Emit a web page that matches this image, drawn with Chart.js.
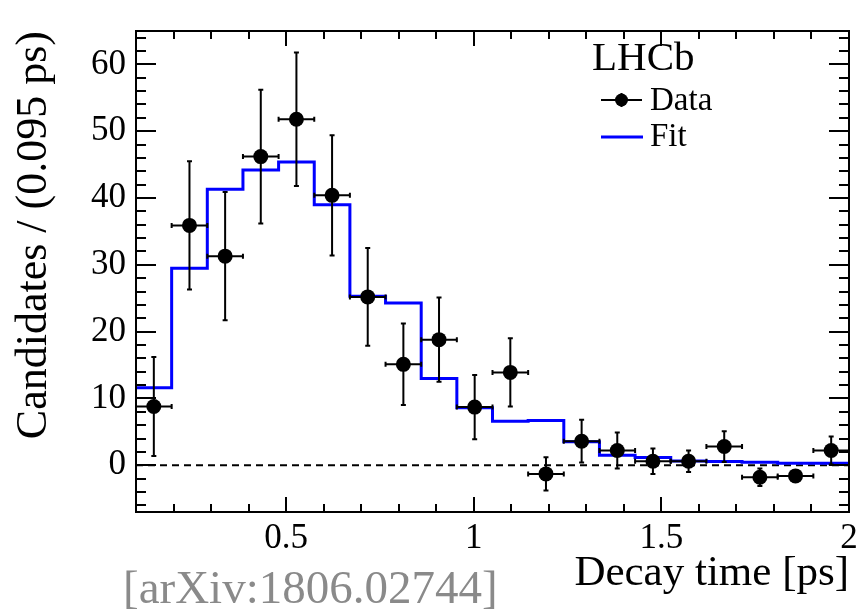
<!DOCTYPE html>
<html>
<head>
<meta charset="utf-8">
<script src="https://cdn.jsdelivr.net/npm/chart.js@4.4.1/dist/chart.umd.min.js"></script>
<style>
  html, body { margin: 0; padding: 0; background: #ffffff; }
  #wrap { width: 865px; height: 609px; position: relative; }
</style>
</head>
<body>
<div id="wrap"><canvas id="c" width="865" height="609"></canvas></div>
<script>
// Decay-time bins (ps), 0.095 ps wide
const binEdges = [0.1, 0.195, 0.29, 0.385, 0.48, 0.575, 0.67, 0.765, 0.86, 0.955,
                  1.05, 1.145, 1.24, 1.335, 1.43, 1.525, 1.62, 1.715, 1.81, 1.905, 2.0];

// Candidates per bin and their statistical uncertainties
const dataValues = [8.8, 35.9, 31.3, 46.2, 51.8, 40.4, 25.2, 15.1, 18.8, 8.7,
                    13.9, -1.3, 3.6, 2.2, 0.6, 0.6, 2.8, -1.8, -1.6, 2.2];
const dataErrors = [7.4, 9.6, 9.6, 10.0, 10.0, 9.0, 7.3, 6.1, 6.3, 4.8,
                    5.1, 2.5, 3.2, 2.7, 1.9, 1.6, 2.3, 1.3, 0.8, 2.1];

// Fit prediction per bin
const fitValues = [11.6, 29.5, 41.3, 44.2, 45.4, 39.0, 25.3, 24.3, 13.0, 8.6,
                   6.6, 6.7, 3.5, 1.5, 1.15, 0.65, 0.55, 0.43, 0.3, 0.28];

// Axis tick labels
const xTickValues = [0.5, 1, 1.5, 2];
const yTickValues = [0, 10, 20, 30, 40, 50, 60];

const FONT = "'Liberation Serif', serif";
Chart.defaults.font.family = FONT;
Chart.defaults.color = '#000';

const binCenters = dataValues.map((_, i) => (binEdges[i] + binEdges[i + 1]) / 2);
const dataPoints = dataValues.map((v, i) => ({ x: binCenters[i], y: v }));
const fitPoints = binEdges.map((e, i) => ({ x: e, y: fitValues[Math.min(i, fitValues.length - 1)] }));

// Frame, inward ticks, zero line, error bars and the legend block
const decorations = {
  id: 'decorations',
  beforeDatasetsDraw(chart) {
    const { ctx, chartArea: a, scales: { y } } = chart;
    const y0 = y.getPixelForValue(0);
    ctx.save();
    ctx.strokeStyle = '#000';
    ctx.lineWidth = 2;
    ctx.setLineDash([7, 5]);
    ctx.beginPath();
    ctx.moveTo(a.left, y0);
    ctx.lineTo(a.right, y0);
    ctx.stroke();
    ctx.restore();
  },
  beforeDatasetDraw(chart, args) {
    if (chart.data.datasets[args.index].label !== 'Data') return;
    const { ctx, scales: { x, y } } = chart;
    ctx.save();
    ctx.strokeStyle = '#000';
    ctx.lineWidth = 2;
    const cap = 2.5;
    dataValues.forEach((v, i) => {
      const px = x.getPixelForValue(binCenters[i]);
      const py = y.getPixelForValue(v);
      const xl = x.getPixelForValue(binEdges[i]);
      const xr = x.getPixelForValue(binEdges[i + 1]);
      const yt = y.getPixelForValue(v + dataErrors[i]);
      const yb = y.getPixelForValue(v - dataErrors[i]);
      ctx.beginPath();
      ctx.moveTo(px, yt); ctx.lineTo(px, yb);
      ctx.moveTo(px - cap, yt); ctx.lineTo(px + cap, yt);
      ctx.moveTo(px - cap, yb); ctx.lineTo(px + cap, yb);
      ctx.moveTo(xl, py); ctx.lineTo(xr, py);
      ctx.moveTo(xl, py - cap); ctx.lineTo(xl, py + cap);
      ctx.moveTo(xr, py - cap); ctx.lineTo(xr, py + cap);
      ctx.stroke();
    });
    ctx.restore();
  },
  afterDatasetsDraw(chart) {
    const { ctx, chartArea: a, scales: { x, y } } = chart;
    ctx.save();
    ctx.strokeStyle = '#000';
    ctx.lineWidth = 2;
    ctx.strokeRect(a.left, a.top, a.right - a.left, a.bottom - a.top);

    ctx.beginPath();
    // x ticks: major every 0.5, minor every 0.1
    for (let k = 1; k <= 19; k++) {
      const v = 0.1 + k * 0.1;
      const px = Math.round(x.getPixelForValue(v));
      const major = Math.abs(v * 2 - Math.round(v * 2)) < 1e-6;
      const len = major ? 15 : 8;
      ctx.moveTo(px, a.bottom); ctx.lineTo(px, a.bottom - len);
      ctx.moveTo(px, a.top); ctx.lineTo(px, a.top + len);
    }
    // y ticks: major every 10, minor every 2
    for (let v = -6; v <= 64; v += 2) {
      const py = Math.round(y.getPixelForValue(v));
      const major = v % 10 === 0;
      const len = major ? 20 : 10;
      ctx.moveTo(a.left, py); ctx.lineTo(a.left + len, py);
      ctx.moveTo(a.right, py); ctx.lineTo(a.right - len, py);
    }
    ctx.stroke();

    // Experiment label and legend
    ctx.fillStyle = '#000';
    ctx.textBaseline = 'alphabetic';
    ctx.textAlign = 'left';
    ctx.font = '41px ' + FONT;
    ctx.fillText('LHCb', 592, 70);

    ctx.font = '33px ' + FONT;
    ctx.fillText('Data', 650, 110);
    ctx.fillText('Fit', 650, 146);

    ctx.lineWidth = 2;
    ctx.beginPath();
    ctx.moveTo(601, 100); ctx.lineTo(642, 100);
    ctx.moveTo(621.5, 93); ctx.lineTo(621.5, 107);
    ctx.stroke();
    ctx.beginPath();
    ctx.arc(621.5, 100, 6.5, 0, Math.PI * 2);
    ctx.fill();

    ctx.strokeStyle = '#0000ff';
    ctx.lineWidth = 3;
    ctx.beginPath();
    ctx.moveTo(601, 137); ctx.lineTo(643, 137);
    ctx.stroke();

    // Reference tag
    ctx.fillStyle = '#8a8a8a';
    ctx.font = '47px ' + FONT;
    ctx.fillText('[arXiv:1806.02744]', 123, 603);
    ctx.restore();
  }
};

new Chart(document.getElementById('c'), {
  type: 'scatter',
  data: {
    datasets: [
      {
        label: 'Data',
        data: dataPoints,
        pointRadius: 7.5,
        pointHoverRadius: 7.5,
        pointBackgroundColor: '#000',
        pointBorderWidth: 0,
        order: 0
      },
      {
        label: 'Fit',
        type: 'line',
        data: fitPoints,
        stepped: true,
        borderColor: '#0000ff',
        borderWidth: 3,
        pointRadius: 0,
        fill: false,
        order: 1
      }
    ]
  },
  options: {
    responsive: false,
    devicePixelRatio: 1,
    animation: false,
    events: [],
    layout: { padding: { left: 0, right: 16, top: 9, bottom: 0 } },
    plugins: { legend: { display: false }, tooltip: { enabled: false } },
    scales: {
      x: {
        type: 'linear',
        min: 0.1,
        max: 2.0,
        grid: { display: false, drawTicks: false },
        border: { display: false },
        afterBuildTicks: s => { s.ticks = xTickValues.map(v => ({ value: v })); },
        afterFit: s => { s.height = 97; },
        ticks: {
          color: '#000',
          font: { family: FONT, size: 35 },
          padding: 6,
          maxRotation: 0,
          autoSkip: false,
          callback: v => String(v)
        },
        title: {
          display: true,
          text: 'Decay time [ps]',
          align: 'end',
          color: '#000',
          font: { family: FONT, size: 43 },
          padding: { top: 0, bottom: 9 }
        }
      },
      y: {
        type: 'linear',
        min: -7,
        max: 65,
        grid: { display: false, drawTicks: false },
        border: { display: false },
        afterBuildTicks: s => { s.ticks = yTickValues.map(v => ({ value: v })); },
        afterFit: s => { s.width = 136; },
        ticks: {
          color: '#000',
          font: { family: FONT, size: 35 },
          padding: 10,
          autoSkip: false,
          callback: v => String(v)
        },
        title: {
          display: true,
          text: 'Candidates / (0.095 ps)',
          align: 'end',
          color: '#000',
          font: { family: FONT, size: 44 },
          padding: { top: 8, bottom: 0 }
        }
      }
    }
  },
  plugins: [decorations]
});
</script>
</body>
</html>
